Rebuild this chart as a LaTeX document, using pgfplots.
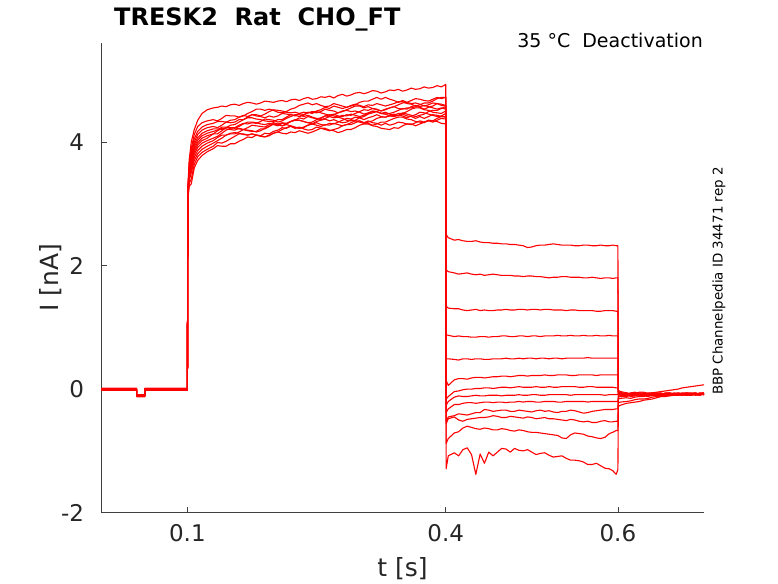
\documentclass[border=0pt]{standalone}
\usepackage{pgfplots}
\usepackage{pgfplotstable}
\pgfplotsset{compat=1.18}
\usepackage{fontspec}
\setmainfont{DejaVu Sans}

\pgfplotstableread{
t a b c d e f g h i j k l m
0 0.00 -0.01 -0.02 0.01 -0.01 0.00 -0.02 0.01 -0.01 0.00 -0.02 0.01 -0.01
0.041 0.00 -0.01 -0.02 0.01 -0.01 0.00 -0.02 0.01 -0.01 0.00 -0.02 0.01 -0.01
0.041 -0.10 -0.11 -0.12 -0.09 -0.11 -0.10 -0.12 -0.09 -0.11 -0.10 -0.12 -0.09 -0.11
0.0505 -0.10 -0.11 -0.12 -0.09 -0.11 -0.10 -0.12 -0.09 -0.11 -0.10 -0.12 -0.09 -0.11
0.0505 0.00 -0.01 -0.02 0.01 -0.01 0.00 -0.02 0.01 -0.01 0.00 -0.02 0.01 -0.01
0.1 0.00 -0.01 -0.02 0.01 -0.01 0.00 -0.02 0.01 -0.01 0.00 -0.02 0.01 -0.01
0.1005 3.25 3.22 3.20 3.18 3.17 3.15 3.14 3.13 3.12 3.10 3.09 3.07 3.05
0.102 3.70 3.62 3.58 3.55 3.52 3.50 3.48 3.45 3.42 3.40 3.37 3.33 3.28
0.1045 4.00 3.90 3.85 3.80 3.76 3.72 3.68 3.64 3.60 3.55 3.50 3.40 3.32
0.108 4.20 4.12 4.05 4.00 3.96 3.92 3.88 3.84 3.80 3.75 3.70 3.64 3.58
0.112 4.35 4.25 4.17 4.12 4.07 4.03 3.99 3.95 3.91 3.86 3.81 3.76 3.70
0.117 4.46 4.31 4.24 4.19 4.14 4.10 4.06 4.02 3.98 3.93 3.88 3.83 3.78
0.123 4.52 4.34 4.28 4.23 4.18 4.14 4.10 4.06 4.02 3.98 3.93 3.88 3.84
0.130 4.55 4.36 4.30 4.25 4.21 4.17 4.13 4.13 4.06 4.02 3.98 3.93 3.89
0.135 4.56 4.34 4.33 4.23 4.21 4.19 4.13 4.18 4.09 4.07 4.02 3.99 3.94
0.140 4.58 4.38 4.33 4.27 4.20 4.24 4.18 4.22 4.14 4.11 4.06 3.98 3.93
0.145 4.57 4.43 4.32 4.32 4.23 4.24 4.23 4.21 4.19 4.11 4.11 4.01 3.93
0.150 4.60 4.42 4.31 4.35 4.27 4.23 4.23 4.20 4.22 4.13 4.14 4.05 3.97
0.155 4.61 4.42 4.32 4.36 4.28 4.23 4.22 4.19 4.23 4.13 4.15 4.09 3.97
0.160 4.59 4.40 4.36 4.40 4.32 4.27 4.25 4.22 4.21 4.16 4.14 4.13 4.01
0.165 4.62 4.42 4.36 4.43 4.36 4.30 4.29 4.20 4.20 4.20 4.12 4.13 4.04
0.170 4.64 4.46 4.40 4.41 4.39 4.29 4.32 4.23 4.18 4.19 4.11 4.11 4.08
0.175 4.63 4.49 4.44 4.44 4.39 4.31 4.32 4.27 4.17 4.18 4.13 4.13 4.07
0.180 4.61 4.53 4.44 4.42 4.37 4.30 4.31 4.26 4.17 4.16 4.11 4.11 4.11
0.185 4.63 4.53 4.42 4.41 4.36 4.33 4.29 4.25 4.21 4.18 4.10 4.09 4.10
0.190 4.66 4.51 4.45 4.39 4.34 4.37 4.28 4.24 4.21 4.22 4.14 4.08 4.08
0.195 4.65 4.53 4.49 4.42 4.33 4.36 4.30 4.28 4.25 4.25 4.13 4.10 4.11
0.200 4.64 4.51 4.52 4.40 4.33 4.35 4.28 4.31 4.29 4.29 4.17 4.14 4.14
0.205 4.66 4.48 4.51 4.42 4.36 4.32 4.26 4.29 4.28 4.28 4.19 4.16 4.16
0.210 4.67 4.47 4.50 4.46 4.36 4.34 4.30 4.31 4.26 4.26 4.23 4.20 4.14
0.215 4.65 4.49 4.48 4.45 4.40 4.38 4.29 4.30 4.29 4.28 4.22 4.23 4.13
0.220 4.68 4.53 4.47 4.44 4.44 4.41 4.33 4.33 4.33 4.26 4.26 4.25 4.16
0.225 4.69 4.55 4.48 4.42 4.43 4.44 4.35 4.36 4.35 4.23 4.24 4.22 4.15
0.230 4.67 4.59 4.46 4.46 4.41 4.44 4.39 4.35 4.35 4.22 4.22 4.24 4.18
0.235 4.70 4.61 4.44 4.48 4.43 4.41 4.37 4.33 4.33 4.23 4.24 4.21 4.16
0.240 4.72 4.63 4.48 4.47 4.47 4.43 4.41 4.31 4.31 4.27 4.27 4.19 4.14
0.245 4.69 4.60 4.46 4.48 4.49 4.40 4.39 4.32 4.29 4.29 4.29 4.20 4.16
0.250 4.70 4.62 4.50 4.47 4.49 4.38 4.37 4.36 4.31 4.33 4.27 4.24 4.19
0.255 4.73 4.59 4.52 4.49 4.47 4.36 4.39 4.38 4.28 4.35 4.25 4.22 4.22
0.260 4.72 4.57 4.56 4.53 4.45 4.38 4.42 4.42 4.27 4.37 4.28 4.20 4.22
0.265 4.74 4.58 4.54 4.51 4.43 4.41 4.44 4.41 4.30 4.34 4.27 4.18 4.19
0.270 4.71 4.62 4.58 4.50 4.45 4.44 4.42 4.39 4.29 4.36 4.30 4.20 4.18
0.275 4.75 4.60 4.56 4.47 4.42 4.47 4.40 4.40 4.32 4.33 4.28 4.22 4.15
0.280 4.77 4.58 4.54 4.49 4.41 4.50 4.43 4.38 4.35 4.31 4.26 4.26 4.17
0.285 4.74 4.56 4.56 4.52 4.44 4.51 4.42 4.35 4.38 4.32 4.28 4.28 4.20
0.290 4.76 4.58 4.59 4.55 4.43 4.49 4.45 4.34 4.37 4.36 4.31 4.28 4.20
0.295 4.79 4.60 4.61 4.58 4.46 4.50 4.43 4.35 4.40 4.34 4.34 4.31 4.23
0.300 4.80 4.64 4.59 4.58 4.49 4.48 4.41 4.39 4.39 4.32 4.34 4.34 4.27
0.305 4.78 4.66 4.57 4.55 4.52 4.45 4.43 4.41 4.36 4.30 4.31 4.31 4.29
0.310 4.80 4.66 4.60 4.57 4.51 4.47 4.46 4.45 4.39 4.32 4.30 4.34 4.29
0.315 4.83 4.69 4.59 4.54 4.54 4.50 4.49 4.47 4.41 4.34 4.27 4.31 4.26
0.320 4.82 4.72 4.62 4.52 4.53 4.49 4.49 4.49 4.44 4.38 4.29 4.30 4.25
0.325 4.79 4.69 4.60 4.50 4.50 4.46 4.46 4.46 4.41 4.40 4.32 4.27 4.22
0.330 4.81 4.72 4.58 4.52 4.53 4.45 4.45 4.48 4.40 4.40 4.32 4.30 4.21
0.335 4.84 4.69 4.60 4.55 4.55 4.46 4.42 4.45 4.42 4.43 4.35 4.27 4.20
0.340 4.83 4.67 4.62 4.57 4.57 4.48 4.43 4.42 4.41 4.45 4.38 4.29 4.23
0.345 4.85 4.64 4.65 4.60 4.54 4.51 4.46 4.43 4.43 4.42 4.40 4.32 4.22
0.350 4.82 4.67 4.65 4.63 4.53 4.54 4.46 4.47 4.42 4.45 4.40 4.31 4.26
0.355 4.84 4.64 4.62 4.64 4.55 4.53 4.49 4.45 4.39 4.42 4.37 4.29 4.29
0.360 4.87 4.67 4.61 4.62 4.55 4.57 4.53 4.43 4.42 4.41 4.36 4.28 4.29
0.365 4.85 4.70 4.58 4.63 4.57 4.59 4.55 4.41 4.44 4.38 4.33 4.31 4.26
0.370 4.86 4.69 4.60 4.61 4.56 4.57 4.55 4.43 4.48 4.41 4.32 4.34 4.29
0.375 4.89 4.67 4.63 4.58 4.53 4.59 4.52 4.45 4.47 4.38 4.31 4.32 4.32
0.380 4.87 4.66 4.63 4.60 4.56 4.57 4.51 4.49 4.45 4.41 4.35 4.34 4.35
0.385 4.88 4.69 4.66 4.63 4.58 4.55 4.48 4.51 4.43 4.44 4.34 4.32 4.34
0.390 4.91 4.72 4.70 4.62 4.62 4.53 4.47 4.51 4.41 4.43 4.38 4.35 4.33
0.395 4.89 4.70 4.72 4.59 4.61 4.55 4.46 4.54 4.42 4.41 4.41 4.38 4.30
0.400 4.93 4.72 4.72 4.58 4.59 4.53 4.50 4.57 4.46 4.40 4.41 4.37 4.29
0.4005 2.50 1.93 1.34 0.88 0.49 0.14 -0.16 -0.26 -0.38 -0.53 -0.56 -0.88 -1.29
0.403 2.45 1.90 1.31 0.87 0.49 0.06 -0.12 -0.20 -0.32 -0.45 -0.48 -0.80 -1.08
0.41 2.41 1.88 1.30 0.85 0.48 0.15 -0.04 -0.13 -0.25 -0.43 -0.45 -0.71 -1.03
0.415 2.42 1.86 1.30 0.86 0.47 0.17 -0.03 -0.11 -0.25 -0.40 -0.50 -0.69 -1.08
0.42 2.40 1.87 1.28 0.85 0.49 0.17 -0.01 -0.12 -0.23 -0.41 -0.52 -0.63 -0.98
0.425 2.39 1.88 1.27 0.85 0.49 0.16 0.00 -0.12 -0.22 -0.42 -0.49 -0.60 -0.95
0.43 2.39 1.86 1.28 0.84 0.48 0.18 0.00 -0.11 -0.22 -0.40 -0.48 -0.62 -1.06
0.435 2.40 1.85 1.29 0.84 0.49 0.19 0.01 -0.10 -0.23 -0.38 -0.47 -0.64 -1.38
0.44 2.38 1.86 1.27 0.85 0.49 0.19 0.01 -0.11 -0.22 -0.38 -0.46 -0.65 -1.05
0.445 2.37 1.84 1.28 0.85 0.48 0.18 0.02 -0.11 -0.21 -0.33 -0.46 -0.63 -1.20
0.45 2.37 1.85 1.27 0.84 0.48 0.19 0.02 -0.10 -0.21 -0.34 -0.45 -0.64 -1.02
0.455 2.36 1.86 1.27 0.85 0.49 0.20 0.01 -0.10 -0.22 -0.36 -0.43 -0.66 -1.08
0.46 2.36 1.85 1.28 0.85 0.49 0.20 0.02 -0.10 -0.21 -0.35 -0.44 -0.66 -1.02
0.465 2.35 1.84 1.28 0.86 0.49 0.21 0.03 -0.11 -0.21 -0.34 -0.46 -0.64 -0.96
0.47 2.35 1.84 1.29 0.86 0.50 0.21 0.03 -0.10 -0.22 -0.34 -0.46 -0.65 -0.97
0.475 2.34 1.84 1.28 0.85 0.49 0.20 0.02 -0.10 -0.21 -0.36 -0.44 -0.67 -1.02
0.48 2.34 1.83 1.28 0.85 0.49 0.21 0.03 -0.10 -0.21 -0.36 -0.45 -0.68 -0.96
0.485 2.33 1.83 1.29 0.86 0.50 0.22 0.04 -0.09 -0.20 -0.34 -0.46 -0.66 -0.99
0.49 2.32 1.82 1.29 0.86 0.49 0.22 0.03 -0.10 -0.21 -0.35 -0.47 -0.67 -1.00
0.495 2.29 1.83 1.28 0.85 0.50 0.21 0.03 -0.10 -0.20 -0.36 -0.45 -0.69 -0.98
0.50 2.30 1.83 1.29 0.86 0.50 0.22 0.03 -0.09 -0.20 -0.37 -0.46 -0.70 -1.02
0.505 2.32 1.82 1.29 0.86 0.49 0.22 0.04 -0.09 -0.21 -0.35 -0.48 -0.70 -1.06
0.51 2.33 1.82 1.28 0.85 0.50 0.22 0.03 -0.10 -0.21 -0.34 -0.47 -0.71 -1.04
0.515 2.33 1.81 1.29 0.86 0.50 0.23 0.03 -0.10 -0.20 -0.36 -0.46 -0.72 -1.03
0.52 2.34 1.80 1.29 0.86 0.49 0.22 0.04 -0.09 -0.20 -0.35 -0.48 -0.73 -1.07
0.525 2.35 1.81 1.28 0.86 0.50 0.22 0.03 -0.09 -0.20 -0.37 -0.48 -0.74 -1.10
0.53 2.34 1.81 1.28 0.87 0.50 0.23 0.03 -0.09 -0.21 -0.38 -0.49 -0.75 -1.09
0.535 2.33 1.82 1.28 0.86 0.49 0.23 0.04 -0.09 -0.21 -0.36 -0.50 -0.79 -1.08
0.54 2.33 1.82 1.27 0.86 0.50 0.23 0.04 -0.09 -0.20 -0.36 -0.51 -0.80 -1.12
0.545 2.33 1.81 1.28 0.87 0.50 0.22 0.04 -0.10 -0.20 -0.34 -0.49 -0.74 -1.15
0.55 2.32 1.81 1.28 0.86 0.50 0.22 0.04 -0.09 -0.20 -0.35 -0.50 -0.71 -1.15
0.555 2.32 1.81 1.27 0.86 0.50 0.23 0.03 -0.09 -0.20 -0.37 -0.52 -0.72 -1.16
0.56 2.33 1.80 1.27 0.87 0.50 0.23 0.03 -0.09 -0.20 -0.39 -0.53 -0.73 -1.18
0.565 2.33 1.80 1.27 0.86 0.51 0.23 0.04 -0.09 -0.21 -0.38 -0.52 -0.76 -1.22
0.57 2.32 1.81 1.27 0.86 0.50 0.23 0.04 -0.09 -0.20 -0.36 -0.54 -0.77 -1.22
0.575 2.32 1.80 1.26 0.87 0.50 0.22 0.03 -0.09 -0.20 -0.35 -0.54 -0.79 -1.20
0.58 2.33 1.79 1.26 0.86 0.50 0.23 0.03 -0.09 -0.20 -0.34 -0.52 -0.80 -1.24
0.585 2.32 1.80 1.27 0.86 0.50 0.23 0.03 -0.10 -0.20 -0.33 -0.51 -0.78 -1.28
0.59 2.32 1.80 1.27 0.87 0.50 0.23 0.03 -0.09 -0.20 -0.33 -0.53 -0.72 -1.29
0.594 2.33 1.79 1.27 0.86 0.50 0.23 0.03 -0.09 -0.20 -0.33 -0.53 -0.70 -1.32
0.598 2.32 1.80 1.26 0.86 0.50 0.23 0.02 -0.09 -0.20 -0.32 -0.52 -0.67 -1.38
0.60 2.32 1.80 1.26 0.86 0.50 0.23 0.02 -0.09 -0.20 -0.32 -0.52 -0.67 -1.30
0.6005 -0.02 -0.04 -0.05 -0.06 -0.07 -0.08 -0.09 -0.10 -0.11 -0.13 -0.16 -0.22 -0.28
0.603 -0.04 -0.06 -0.08 -0.05 -0.09 -0.07 -0.10 -0.08 -0.11 -0.12 -0.15 -0.21 -0.26
0.61 -0.06 -0.08 -0.06 -0.09 -0.07 -0.10 -0.08 -0.11 -0.09 -0.12 -0.14 -0.20 -0.23
0.615 -0.08 -0.06 -0.09 -0.07 -0.10 -0.07 -0.10 -0.08 -0.12 -0.10 -0.15 -0.19 -0.22
0.62 -0.07 -0.05 -0.09 -0.07 -0.10 -0.08 -0.06 -0.09 -0.11 -0.10 -0.13 -0.17 -0.21
0.625 -0.05 -0.08 -0.06 -0.10 -0.07 -0.10 -0.08 -0.10 -0.09 -0.12 -0.12 -0.16 -0.20
0.63 -0.05 -0.09 -0.07 -0.10 -0.06 -0.09 -0.11 -0.07 -0.10 -0.12 -0.11 -0.16 -0.18
0.635 -0.07 -0.06 -0.09 -0.08 -0.10 -0.07 -0.09 -0.08 -0.11 -0.09 -0.12 -0.15 -0.17
0.64 -0.06 -0.07 -0.10 -0.06 -0.09 -0.07 -0.08 -0.10 -0.08 -0.11 -0.10 -0.13 -0.16
0.645 -0.05 -0.09 -0.07 -0.09 -0.06 -0.09 -0.07 -0.11 -0.07 -0.10 -0.09 -0.12 -0.14
0.65 -0.04 -0.08 -0.06 -0.09 -0.07 -0.10 -0.07 -0.09 -0.11 -0.08 -0.10 -0.12 -0.12
0.655 -0.03 -0.07 -0.09 -0.06 -0.09 -0.07 -0.10 -0.07 -0.09 -0.09 -0.11 -0.11 -0.12
0.66 -0.02 -0.06 -0.09 -0.07 -0.10 -0.06 -0.09 -0.08 -0.07 -0.10 -0.09 -0.10 -0.11
0.665 -0.01 -0.08 -0.06 -0.09 -0.08 -0.08 -0.08 -0.10 -0.08 -0.08 -0.08 -0.09 -0.10
0.67 0.00 -0.09 -0.07 -0.08 -0.06 -0.09 -0.07 -0.10 -0.09 -0.07 -0.10 -0.08 -0.09
0.675 0.02 -0.06 -0.09 -0.07 -0.07 -0.10 -0.08 -0.08 -0.10 -0.08 -0.09 -0.09 -0.08
0.68 0.03 -0.07 -0.10 -0.06 -0.09 -0.07 -0.10 -0.06 -0.08 -0.09 -0.07 -0.10 -0.08
0.685 0.04 -0.09 -0.07 -0.08 -0.10 -0.06 -0.09 -0.07 -0.07 -0.10 -0.08 -0.08 -0.10
0.69 0.05 -0.08 -0.06 -0.09 -0.07 -0.10 -0.08 -0.09 -0.06 -0.08 -0.09 -0.07 -0.09
0.695 0.06 -0.07 -0.09 -0.06 -0.08 -0.09 -0.07 -0.10 -0.08 -0.07 -0.10 -0.08 -0.08
0.70 0.07 -0.06 -0.08 -0.07 -0.09 -0.07 -0.09 -0.07 -0.09 -0.06 -0.08 -0.09 -0.07
}\data

\begin{document}
\begin{tikzpicture}[x=1pt,y=1pt]
\useasboundingbox (0,0) rectangle (778,583);
\begin{axis}[
  at={(101.3pt,70.3pt)}, anchor=south west,
  width=602.7pt, height=469.7pt, scale only axis,
  xmin=0, xmax=0.7, ymin=-2, ymax=5.6,
  axis lines=left,
  axis line style={-, draw=black!75, line width=0.6pt},
  tick align=inside, major tick length=6pt,
  tick style={draw=black!75, line width=0.6pt},
  xtick={0.1,0.4,0.6}, xticklabels={0.1,0.4,0.6},
  ytick={-2,0,2,4}, yticklabels={-2,0,2,4},
  ticklabel style={font=\fontsize{23}{23}\selectfont, text=black!85},
  xticklabel style={anchor=base, inner sep=0pt, yshift=-29pt},
  yticklabel style={anchor=east, inner sep=0pt, xshift=-17pt},
  clip=true,
]
\pgfplotsinvokeforeach{a,b,c,d,e,f,g,h,i,j,k,l,m}{
  \addplot[red, line width=1.1pt, line join=round] table[x=t, y=#1]{\data};
}
\end{axis}
\node[anchor=base, inner sep=0pt, font=\fontsize{25}{25}\selectfont, text=black!85] at (402.5,6.3) {t [s]};
\node[rotate=90, anchor=base, inner sep=0pt, font=\fontsize{25}{25}\selectfont, text=black!85] at (58.4,305.5) {I [nA]};
\node[anchor=base west, inner sep=0pt, font=\bfseries\fontsize{24}{24}\selectfont] at (114,557) {TRESK2\ \ Rat\ \ CHO\_FT};
\node[anchor=base east, inner sep=0pt, font=\fontsize{19}{19}\selectfont] at (703,535.7) {35 °C\ \ Deactivation};
\node[rotate=90, anchor=base west, inner sep=0pt, font=\fontsize{13.4}{13.4}\selectfont] at (722.5,188) {BBP Channelpedia ID 34471 rep 2};
\end{tikzpicture}
\end{document}
